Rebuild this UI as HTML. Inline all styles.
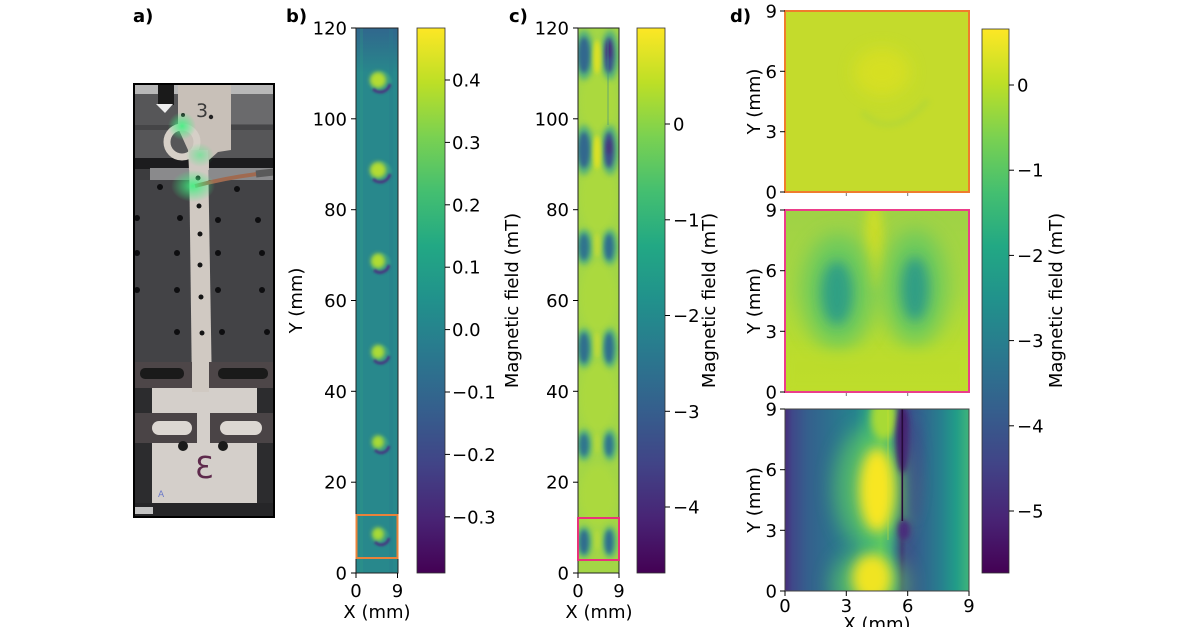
<!DOCTYPE html>
<html><head><meta charset="utf-8"><style>
html,body{margin:0;padding:0;background:#fff;}
svg{display:block;}
text{font-family:"DejaVu Sans","Liberation Sans",sans-serif;font-size:18px;fill:#000;}
.b{font-weight:bold;}
</style></head><body>
<svg width="1200" height="627" viewBox="0 0 1200 627" xmlns="http://www.w3.org/2000/svg">
<defs>
 <linearGradient id="vir" x1="0" y1="1" x2="0" y2="0">
  <stop offset="0" stop-color="#440154"/><stop offset="0.1" stop-color="#482475"/>
  <stop offset="0.2" stop-color="#414487"/><stop offset="0.3" stop-color="#355f8d"/>
  <stop offset="0.4" stop-color="#2a788e"/><stop offset="0.5" stop-color="#21918c"/>
  <stop offset="0.6" stop-color="#22a884"/><stop offset="0.7" stop-color="#44bf70"/>
  <stop offset="0.8" stop-color="#7ad151"/><stop offset="0.9" stop-color="#bddf26"/>
  <stop offset="1" stop-color="#fde725"/>
 </linearGradient>
 <linearGradient id="gdb" gradientUnits="userSpaceOnUse" x1="785" y1="0" x2="969" y2="0">
  <stop offset="0" stop-color="#472d7b"/><stop offset="0.04" stop-color="#3f4889"/>
  <stop offset="0.12" stop-color="#355f8d"/><stop offset="0.25" stop-color="#2d718e"/>
  <stop offset="0.38" stop-color="#26838e"/><stop offset="0.45" stop-color="#2ba085"/>
  <stop offset="0.52" stop-color="#56c667"/><stop offset="0.57" stop-color="#3a9f87"/>
  <stop offset="0.60" stop-color="#2f6c8e"/><stop offset="0.635" stop-color="#3b2f7a"/>
  <stop offset="0.66" stop-color="#3d4d8a"/><stop offset="0.75" stop-color="#31668e"/>
  <stop offset="0.85" stop-color="#27808e"/><stop offset="0.93" stop-color="#219c88"/>
  <stop offset="1" stop-color="#3fb47a"/>
 </linearGradient>
 <linearGradient id="gdm" gradientUnits="userSpaceOnUse" x1="0" y1="210" x2="0" y2="392">
  <stop offset="0" stop-color="#9fd246"/><stop offset="0.45" stop-color="#a8d740"/>
  <stop offset="0.75" stop-color="#b9dc2f"/><stop offset="1" stop-color="#bfdd2c"/>
 </linearGradient>
 <linearGradient id="btop" x1="0" y1="0" x2="0" y2="1">
  <stop offset="0" stop-color="#31638d" stop-opacity="0.9"/><stop offset="1" stop-color="#31638d" stop-opacity="0"/>
 </linearGradient>
 <radialGradient id="green">
  <stop offset="0" stop-color="#40f080" stop-opacity="0.9"/><stop offset="1" stop-color="#40f080" stop-opacity="0"/>
 </radialGradient>
 <filter id="f1" filterUnits="userSpaceOnUse" x="0" y="0" width="1200" height="627"><feGaussianBlur stdDeviation="1"/></filter>
 <filter id="f2" filterUnits="userSpaceOnUse" x="0" y="0" width="1200" height="627"><feGaussianBlur stdDeviation="2"/></filter>
 <filter id="f3" filterUnits="userSpaceOnUse" x="0" y="0" width="1200" height="627"><feGaussianBlur stdDeviation="3"/></filter>
 <filter id="f4" filterUnits="userSpaceOnUse" x="0" y="0" width="1200" height="627"><feGaussianBlur stdDeviation="4"/></filter>
 <filter id="f5" filterUnits="userSpaceOnUse" x="0" y="0" width="1200" height="627"><feGaussianBlur stdDeviation="5"/></filter>
 <filter id="f6" filterUnits="userSpaceOnUse" x="0" y="0" width="1200" height="627"><feGaussianBlur stdDeviation="6"/></filter>
 <filter id="f8" filterUnits="userSpaceOnUse" x="0" y="0" width="1200" height="627"><feGaussianBlur stdDeviation="8"/></filter>
 <filter id="f10" filterUnits="userSpaceOnUse" x="0" y="0" width="1200" height="627"><feGaussianBlur stdDeviation="10"/></filter>
 <clipPath id="cA"><rect x="134" y="84" width="140" height="433"/></clipPath>
 <clipPath id="cB"><rect x="356" y="28" width="42" height="545"/></clipPath>
 <clipPath id="cC"><rect x="578" y="28" width="41" height="545"/></clipPath>
 <clipPath id="cD1"><rect x="785" y="11" width="184" height="181"/></clipPath>
 <clipPath id="cD2"><rect x="785" y="210" width="184" height="182"/></clipPath>
 <clipPath id="cD3"><rect x="785" y="409" width="184" height="182"/></clipPath>
</defs>

<!-- ============ PANEL A (photo) ============ -->
<g clip-path="url(#cA)">
 <rect x="134" y="84" width="140" height="433" fill="#3c3c3e"/>
 <rect x="134" y="84" width="140" height="10" fill="#b8b8b8"/>
 <rect x="134" y="94" width="140" height="66" fill="#565658"/>
 <rect x="230" y="94" width="44" height="30" fill="#6a6a6c"/>
 <rect x="134" y="125" width="140" height="5" fill="#3a3a3c" opacity="0.6"/>
 <rect x="134" y="158" width="140" height="11" fill="#1c1c1e"/>
 <rect x="150" y="168" width="124" height="12" fill="#8a8a8c"/>
 <rect x="134" y="180" width="140" height="182" fill="#434346"/>
 <g fill="#0e0e10">
  <circle cx="160" cy="187" r="3"/><circle cx="237" cy="189" r="3"/>
  <circle cx="137" cy="218" r="3"/><circle cx="180" cy="218" r="3"/><circle cx="218" cy="220" r="3"/><circle cx="258" cy="220" r="3"/>
  <circle cx="137" cy="253" r="3"/><circle cx="177" cy="253" r="3"/><circle cx="218" cy="253" r="3"/><circle cx="262" cy="253" r="3"/>
  <circle cx="137" cy="290" r="3"/><circle cx="177" cy="290" r="3"/><circle cx="218" cy="290" r="3"/><circle cx="262" cy="290" r="3"/>
  <circle cx="177" cy="332" r="3"/><circle cx="222" cy="332" r="3"/><circle cx="267" cy="332" r="3"/>
 </g>
 <polygon points="178,84 231,84 231,150 218,152 209,160 209,170 189,170 188,150 178,128" fill="#c8c0b8"/>
 <text x="196" y="117" style="font-size:19px;fill:#3a3a3a">3</text>
 <circle cx="183" cy="115" r="2" fill="#222"/>
 <circle cx="211" cy="117" r="2.2" fill="#222"/>
 <circle cx="182" cy="142" r="15" fill="none" stroke="#d6cfc7" stroke-width="7"/>
 <rect x="158" y="84" width="16" height="21" fill="#1a1a1a"/>
 <polygon points="156,104 173,104 165,113" fill="#eeeeee"/>
 <polygon points="189,150 208,150 212,392 192,392" fill="#d0c9c2"/>
 <g fill="#151515">
  <circle cx="198" cy="178" r="2.5"/><circle cx="199" cy="206" r="2.5"/><circle cx="200" cy="234" r="2.5"/>
  <circle cx="200" cy="265" r="2.5"/><circle cx="201" cy="297" r="2.5"/><circle cx="202" cy="333" r="2.5"/>
 </g>
 <path d="M195,186 Q225,178 257,174" stroke="#a06a50" stroke-width="4" fill="none"/>
 <path d="M256,174 L274,172" stroke="#5a5a5a" stroke-width="7"/>
 <ellipse cx="193" cy="186" rx="22" ry="16" fill="url(#green)"/>
 <ellipse cx="182" cy="126" rx="14" ry="14" fill="url(#green)"/>
 <ellipse cx="200" cy="155" rx="14" ry="12" fill="url(#green)" opacity="0.6"/>
 <rect x="134" y="362" width="140" height="155" fill="#2c2c2e"/>
 <rect x="152" y="386" width="105" height="117" fill="#d4cfca"/>
 <rect x="192" y="362" width="17" height="30" fill="#d0c9c2"/>
 <rect x="134" y="362" width="58" height="26" fill="#4d4648"/>
 <rect x="140" y="368" width="44" height="11" rx="5" fill="#1a1a1a"/>
 <rect x="209" y="362" width="65" height="26" fill="#4d4648"/>
 <rect x="218" y="368" width="50" height="11" rx="5" fill="#1a1a1a"/>
 <rect x="134" y="413" width="63" height="30" fill="#4a4446"/>
 <rect x="152" y="421" width="40" height="14" rx="7" fill="#dcd7d2"/>
 <rect x="210" y="413" width="64" height="30" fill="#4a4446"/>
 <rect x="220" y="421" width="42" height="14" rx="7" fill="#dcd7d2"/>
 <circle cx="183" cy="446" r="5" fill="#1a1a1a"/>
 <circle cx="223" cy="446" r="5" fill="#1a1a1a"/>
 <text transform="translate(214,478) scale(-1,1)" style="font-size:30px;fill:#5e2a4c">3</text>
 <text x="158" y="497" style="font-size:9px;fill:#6a78c8">A</text>
 <rect x="134" y="503" width="140" height="14" fill="#262628"/>
 <rect x="135" y="507" width="18" height="7" fill="#c4c4c4"/>
</g>
<rect x="134" y="84" width="140" height="433" fill="none" stroke="#000" stroke-width="2"/>

<!-- ============ PANEL B ============ -->
<g clip-path="url(#cB)">
 <rect x="356" y="28" width="42" height="545" fill="#28888c"/>
 <rect x="356" y="28" width="42" height="45" fill="url(#btop)"/>
 <rect x="360" y="28" width="3" height="545" fill="#30a085" opacity="0.25"/>
 <rect x="389" y="28" width="4" height="545" fill="#2a7a8e" opacity="0.3"/>
 <g>
  <circle cx="381" cy="82" r="11" fill="#3aa586" opacity="0.55" filter="url(#f1)"/>
  <ellipse cx="378" cy="80" rx="8" ry="8" fill="#b4dc30" filter="url(#f2)"/>
  <path d="M373,89 A10,10 0 0 0 390,84" stroke="#463480" stroke-width="3" fill="none" filter="url(#f1)"/>
  <circle cx="381" cy="172" r="11" fill="#3aa586" opacity="0.55" filter="url(#f1)"/>
  <ellipse cx="378" cy="170" rx="8" ry="8" fill="#b4dc30" filter="url(#f2)"/>
  <path d="M373,179 A10,10 0 0 0 390,174" stroke="#463480" stroke-width="3" fill="none" filter="url(#f1)"/>
  <circle cx="381" cy="263" r="10" fill="#3aa586" opacity="0.55" filter="url(#f1)"/>
  <ellipse cx="378" cy="261" rx="7" ry="7.5" fill="#b0dc32" filter="url(#f2)"/>
  <path d="M374,270 A9,9 0 0 0 389,265" stroke="#463480" stroke-width="3" fill="none" filter="url(#f1)"/>
  <circle cx="381" cy="354" r="9" fill="#3aa586" opacity="0.55" filter="url(#f1)"/>
  <ellipse cx="378" cy="352" rx="6.5" ry="7" fill="#acdb34" filter="url(#f2)"/>
  <path d="M374,360 A8.5,8.5 0 0 0 389,356" stroke="#463480" stroke-width="2.8" fill="none" filter="url(#f1)"/>
  <circle cx="381" cy="444" r="8" fill="#3aa586" opacity="0.55" filter="url(#f1)"/>
  <ellipse cx="378" cy="442" rx="6" ry="6.5" fill="#a8da36" filter="url(#f2)"/>
  <path d="M375,450 A8,8 0 0 0 389,446" stroke="#463480" stroke-width="2.8" fill="none" filter="url(#f1)"/>
  <circle cx="381" cy="536" r="8" fill="#3aa586" opacity="0.55" filter="url(#f1)"/>
  <ellipse cx="378" cy="534" rx="6" ry="6.5" fill="#a8da36" filter="url(#f2)"/>
  <path d="M375,542 A8,8 0 0 0 389,538" stroke="#463480" stroke-width="2.8" fill="none" filter="url(#f1)"/>
 </g>
</g>
<rect x="356" y="28" width="42" height="545" fill="none" stroke="#222" stroke-width="1"/>
<rect x="356.5" y="515" width="41" height="43" fill="none" stroke="#e8823a" stroke-width="2"/>
<g stroke="#000" stroke-width="1">
 <line x1="351" y1="28" x2="356" y2="28"/><line x1="351" y1="118.8" x2="356" y2="118.8"/>
 <line x1="351" y1="209.7" x2="356" y2="209.7"/><line x1="351" y1="300.5" x2="356" y2="300.5"/>
 <line x1="351" y1="391.3" x2="356" y2="391.3"/><line x1="351" y1="482.2" x2="356" y2="482.2"/>
 <line x1="351" y1="573" x2="356" y2="573"/>
 <line x1="356" y1="573" x2="356" y2="578"/><line x1="397.5" y1="573" x2="397.5" y2="578"/>
</g>
<g text-anchor="end">
 <text x="347" y="34.5">120</text><text x="347" y="125.3">100</text><text x="347" y="216.2">80</text>
 <text x="347" y="307">60</text><text x="347" y="397.8">40</text><text x="347" y="488.7">20</text>
 <text x="347" y="579.5">0</text>
</g>
<g text-anchor="middle">
 <text x="356" y="597">0</text><text x="397.5" y="597">9</text>
 <text x="377" y="618">X (mm)</text>
 <text transform="translate(302,300.5) rotate(-90)">Y (mm)</text>
</g>

<!-- colorbar B -->
<rect x="417" y="28" width="28" height="545" fill="url(#vir)" stroke="#333" stroke-width="0.8"/>
<g stroke="#000" stroke-width="1">
 <line x1="445" y1="80" x2="450" y2="80"/><line x1="445" y1="142.4" x2="450" y2="142.4"/>
 <line x1="445" y1="204.8" x2="450" y2="204.8"/><line x1="445" y1="267.2" x2="450" y2="267.2"/>
 <line x1="445" y1="329.6" x2="450" y2="329.6"/><line x1="445" y1="392" x2="450" y2="392"/>
 <line x1="445" y1="454.4" x2="450" y2="454.4"/><line x1="445" y1="516.8" x2="450" y2="516.8"/>
</g>
<g>
 <text x="452" y="86.5">0.4</text><text x="452" y="148.9">0.3</text><text x="452" y="211.3">0.2</text>
 <text x="452" y="273.7">0.1</text><text x="452" y="336.1">0.0</text><text x="452" y="398.5">−0.1</text>
 <text x="452" y="460.9">−0.2</text><text x="452" y="523.3">−0.3</text>
</g>
<text transform="translate(518,300.5) rotate(-90)" text-anchor="middle">Magnetic field (mT)</text>

<!-- ============ PANEL C ============ -->
<g clip-path="url(#cC)">
 <rect x="578" y="28" width="41" height="545" fill="#a3d646"/>
 <g fill="#b3dc38" opacity="0.5" filter="url(#f3)">
  <ellipse cx="598" cy="102" rx="18" ry="30"/><ellipse cx="598" cy="198" rx="18" ry="35"/>
  <ellipse cx="598" cy="297" rx="18" ry="35"/><ellipse cx="598" cy="397" rx="18" ry="35"/>
  <ellipse cx="598" cy="495" rx="18" ry="30"/>
 </g>
 <g fill="#3aa58a" opacity="0.75" filter="url(#f3)">
  <ellipse cx="584" cy="55" rx="10" ry="25"/><ellipse cx="610" cy="55" rx="9" ry="25"/>
  <ellipse cx="584" cy="150" rx="10" ry="25"/><ellipse cx="610" cy="150" rx="9" ry="25"/>
  <ellipse cx="584" cy="247" rx="9" ry="18"/><ellipse cx="610" cy="247" rx="8" ry="18"/>
  <ellipse cx="584" cy="348" rx="9" ry="20"/><ellipse cx="610" cy="348" rx="8" ry="20"/>
  <ellipse cx="584" cy="445" rx="8" ry="16"/><ellipse cx="610" cy="445" rx="7" ry="16"/>
  <ellipse cx="584" cy="542" rx="8" ry="16"/><ellipse cx="610" cy="542" rx="7" ry="16"/>
 </g>
 <g filter="url(#f2)">
  <ellipse cx="584" cy="55" rx="6" ry="18" fill="#30678e"/><ellipse cx="609" cy="55" rx="5" ry="18" fill="#3b4f8a"/>
  <ellipse cx="584" cy="150" rx="6" ry="18" fill="#30678e"/><ellipse cx="609" cy="150" rx="5" ry="18" fill="#3b4f8a"/>
  <ellipse cx="584" cy="247" rx="5" ry="13" fill="#2e738e"/><ellipse cx="609" cy="247" rx="4.5" ry="13" fill="#2f6c8e"/>
  <ellipse cx="584" cy="348" rx="5" ry="15" fill="#2f6e8e"/><ellipse cx="609" cy="348" rx="4.5" ry="15" fill="#2f6c8e"/>
  <ellipse cx="584" cy="445" rx="4.5" ry="11" fill="#2e748e"/><ellipse cx="609" cy="445" rx="4" ry="11" fill="#2e728e"/>
  <ellipse cx="584" cy="542" rx="4.5" ry="12" fill="#2f6c8e"/><ellipse cx="609" cy="542" rx="4" ry="12" fill="#2f6c8e"/>
  <ellipse cx="609" cy="50" rx="3" ry="9" fill="#46287a"/><ellipse cx="609" cy="147" rx="3" ry="8" fill="#47307c"/>
 </g>
 <g fill="#e6e31e" filter="url(#f2)">
  <ellipse cx="597" cy="57" rx="4" ry="17" opacity="0.9"/><ellipse cx="597" cy="152" rx="4" ry="17" opacity="0.9"/>
  <ellipse cx="597" cy="245" rx="3.5" ry="12" opacity="0.45"/><ellipse cx="597" cy="345" rx="3.5" ry="13" opacity="0.45"/>
  <ellipse cx="597" cy="443" rx="3" ry="10" opacity="0.3"/><ellipse cx="597" cy="540" rx="3" ry="10" opacity="0.3"/>
 </g>
 <line x1="608" y1="40" x2="608" y2="125" stroke="#3c8a84" stroke-width="1" opacity="0.6"/>
</g>
<rect x="578" y="28" width="41" height="545" fill="none" stroke="#222" stroke-width="1"/>
<rect x="578" y="518" width="41" height="42" fill="none" stroke="#e8337a" stroke-width="2"/>
<g stroke="#000" stroke-width="1">
 <line x1="573" y1="28" x2="578" y2="28"/><line x1="573" y1="118.8" x2="578" y2="118.8"/>
 <line x1="573" y1="209.7" x2="578" y2="209.7"/><line x1="573" y1="300.5" x2="578" y2="300.5"/>
 <line x1="573" y1="391.3" x2="578" y2="391.3"/><line x1="573" y1="482.2" x2="578" y2="482.2"/>
 <line x1="573" y1="573" x2="578" y2="573"/>
 <line x1="578" y1="573" x2="578" y2="578"/><line x1="619" y1="573" x2="619" y2="578"/>
</g>
<g text-anchor="end">
 <text x="569" y="34.5">120</text><text x="569" y="125.3">100</text><text x="569" y="216.2">80</text>
 <text x="569" y="307">60</text><text x="569" y="397.8">40</text><text x="569" y="488.7">20</text>
 <text x="569" y="579.5">0</text>
</g>
<g text-anchor="middle">
 <text x="578" y="597">0</text><text x="619" y="597">9</text>
 <text x="599" y="618">X (mm)</text>
</g>

<!-- colorbar C -->
<rect x="637" y="28" width="28" height="545" fill="url(#vir)" stroke="#333" stroke-width="0.8"/>
<g stroke="#000" stroke-width="1">
 <line x1="665" y1="124" x2="670" y2="124"/><line x1="665" y1="219.8" x2="670" y2="219.8"/>
 <line x1="665" y1="315.5" x2="670" y2="315.5"/><line x1="665" y1="411.3" x2="670" y2="411.3"/>
 <line x1="665" y1="507" x2="670" y2="507"/>
</g>
<g>
 <text x="673" y="130.5">0</text><text x="673" y="226.3">−1</text><text x="673" y="322">−2</text>
 <text x="673" y="417.8">−3</text><text x="673" y="513.5">−4</text>
</g>
<text transform="translate(715,300.5) rotate(-90)" text-anchor="middle">Magnetic field (mT)</text>

<!-- ============ PANEL D ============ -->
<g clip-path="url(#cD1)">
 <rect x="785" y="11" width="184" height="181" fill="#c4db2c"/>
 <ellipse cx="882" cy="72" rx="28" ry="24" fill="#e2e21c" opacity="0.6" filter="url(#f8)"/>
 <path d="M862,112 Q892,142 928,100" stroke="#a8d43c" stroke-width="6" fill="none" opacity="0.45" filter="url(#f3)"/>
</g>
<rect x="785" y="11" width="184" height="181" fill="none" stroke="#ef7d2d" stroke-width="2"/>
<g clip-path="url(#cD2)">
 <rect x="785" y="210" width="184" height="182" fill="url(#gdm)"/>
 <ellipse cx="874" cy="245" rx="10" ry="45" fill="#d5df22" opacity="0.8" filter="url(#f5)"/>
 <ellipse cx="838" cy="292" rx="36" ry="58" fill="#62c762" opacity="0.85" filter="url(#f10)"/>
 <ellipse cx="915" cy="288" rx="32" ry="58" fill="#62c762" opacity="0.85" filter="url(#f10)"/>
 <ellipse cx="837" cy="293" rx="16" ry="32" fill="#2c9c88" opacity="0.9" filter="url(#f6)"/>
 <ellipse cx="915" cy="289" rx="14" ry="32" fill="#2a9a89" opacity="0.9" filter="url(#f6)"/>
 <rect x="785" y="352" width="184" height="40" fill="#bddd2b" opacity="0.6" filter="url(#f5)"/>
</g>
<rect x="785" y="210" width="184" height="182" fill="none" stroke="#ec3d8a" stroke-width="2"/>
<g clip-path="url(#cD3)">
 <rect x="785" y="409" width="184" height="182" fill="url(#gdb)"/>
 <ellipse cx="873" cy="488" rx="38" ry="62" fill="#5ec962" opacity="0.75" filter="url(#f10)"/>
 <ellipse cx="870" cy="584" rx="38" ry="34" fill="#5ec962" opacity="0.75" filter="url(#f10)"/>
 <ellipse cx="884" cy="418" rx="13" ry="22" fill="#a8da34" filter="url(#f4)"/>
 <ellipse cx="877" cy="490" rx="18" ry="42" fill="#f8e623" filter="url(#f6)"/>
 <ellipse cx="872" cy="578" rx="20" ry="24" fill="#f0e421" filter="url(#f6)"/>
 <line x1="888" y1="409" x2="888" y2="540" stroke="#d0e030" stroke-width="1" opacity="0.5"/>
 <ellipse cx="903" cy="440" rx="7" ry="33" fill="#46206f" filter="url(#f3)"/>
 <ellipse cx="904" cy="530" rx="6" ry="10" fill="#4a2a7b" filter="url(#f3)"/>
 <ellipse cx="915" cy="470" rx="8" ry="50" fill="#3d4d8a" opacity="0.6" filter="url(#f5)"/>
 <rect x="901.5" y="409" width="1.6" height="112" fill="#250a3a"/>
</g>
<rect x="785" y="409" width="184" height="182" fill="none" stroke="#444" stroke-width="1"/>

<g stroke="#000" stroke-width="1">
 <line x1="780" y1="11" x2="785" y2="11"/><line x1="780" y1="71.3" x2="785" y2="71.3"/>
 <line x1="780" y1="131.7" x2="785" y2="131.7"/><line x1="780" y1="192" x2="785" y2="192"/>
 <line x1="780" y1="210" x2="785" y2="210"/><line x1="780" y1="270.7" x2="785" y2="270.7"/>
 <line x1="780" y1="331.3" x2="785" y2="331.3"/><line x1="780" y1="392" x2="785" y2="392"/>
 <line x1="780" y1="409" x2="785" y2="409"/><line x1="780" y1="469.7" x2="785" y2="469.7"/>
 <line x1="780" y1="530.3" x2="785" y2="530.3"/><line x1="780" y1="591" x2="785" y2="591"/>
 <line x1="785" y1="591" x2="785" y2="596"/><line x1="846.3" y1="591" x2="846.3" y2="596"/>
 <line x1="907.7" y1="591" x2="907.7" y2="596"/><line x1="969" y1="591" x2="969" y2="596"/>
</g>
<g stroke="#777" stroke-width="1">
 <line x1="846.3" y1="193" x2="846.3" y2="196"/><line x1="907.7" y1="193" x2="907.7" y2="196"/>
 <line x1="846.3" y1="393" x2="846.3" y2="396"/><line x1="907.7" y1="393" x2="907.7" y2="396"/>
</g>
<g text-anchor="end">
 <text x="777" y="17.5">9</text><text x="777" y="77.8">6</text><text x="777" y="138.2">3</text><text x="777" y="198.5">0</text>
 <text x="777" y="216.5">9</text><text x="777" y="277.2">6</text><text x="777" y="337.8">3</text><text x="777" y="398.5">0</text>
 <text x="777" y="415.5">9</text><text x="777" y="476.2">6</text><text x="777" y="536.8">3</text><text x="777" y="597.5">0</text>
</g>
<g text-anchor="middle">
 <text x="785" y="612">0</text><text x="846.3" y="612">3</text><text x="907.7" y="612">6</text><text x="969" y="612">9</text>
 <text x="877" y="630">X (mm)</text>
 <text transform="translate(760,101.5) rotate(-90)">Y (mm)</text>
 <text transform="translate(760,301) rotate(-90)">Y (mm)</text>
 <text transform="translate(760,500) rotate(-90)">Y (mm)</text>
</g>

<rect x="982" y="29" width="27" height="544" fill="url(#vir)" stroke="#333" stroke-width="0.8"/>
<g stroke="#000" stroke-width="1">
 <line x1="1009" y1="85" x2="1014" y2="85"/><line x1="1009" y1="170.2" x2="1014" y2="170.2"/>
 <line x1="1009" y1="255.4" x2="1014" y2="255.4"/><line x1="1009" y1="340.6" x2="1014" y2="340.6"/>
 <line x1="1009" y1="425.8" x2="1014" y2="425.8"/><line x1="1009" y1="511" x2="1014" y2="511"/>
</g>
<g>
 <text x="1017" y="91.5">0</text><text x="1017" y="176.7">−1</text><text x="1017" y="261.9">−2</text>
 <text x="1017" y="347.1">−3</text><text x="1017" y="432.3">−4</text><text x="1017" y="517.5">−5</text>
</g>
<text transform="translate(1062,300.5) rotate(-90)" text-anchor="middle">Magnetic field (mT)</text>

<text class="b" x="133" y="22">a)</text>
<text class="b" x="286" y="22">b)</text>
<text class="b" x="509" y="22">c)</text>
<text class="b" x="730" y="22">d)</text>
</svg>
</body></html>
